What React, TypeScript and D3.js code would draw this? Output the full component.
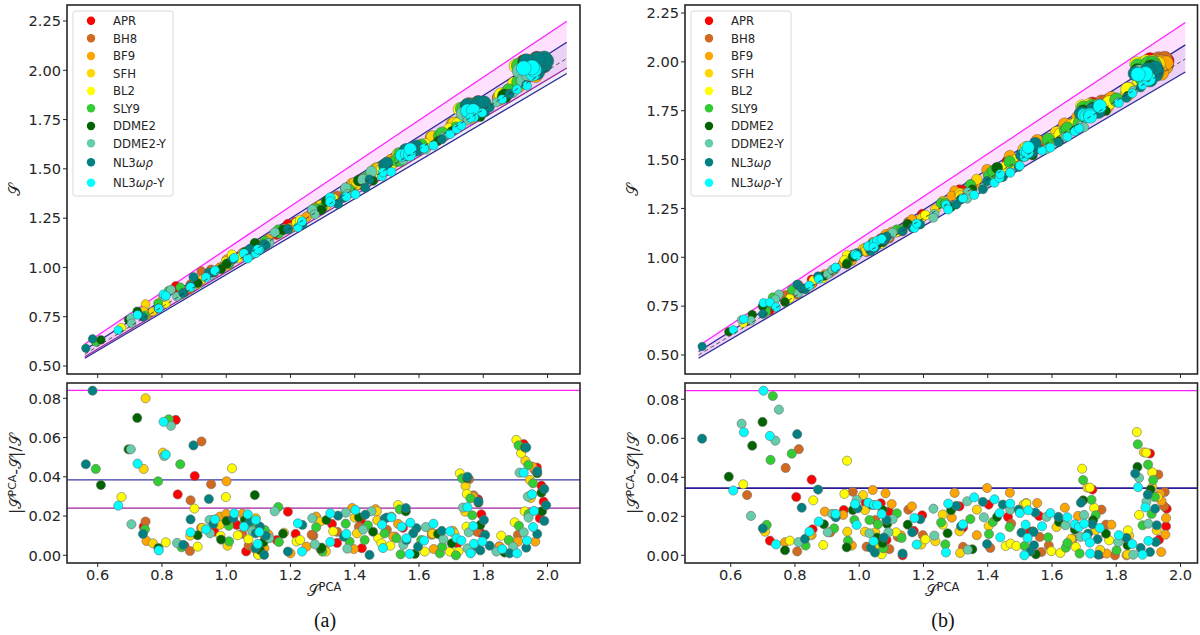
import React from "react";
import * as d3 from "d3";

type P = [number, number];
// [S_PCA, signed relative deviation]: the sign says whether S lies above (+) or below (-) S_PCA.
const seriesNames = ["APR", "BH8", "BF9", "SFH", "BL2", "SLY9", "DDME2", "DDME2-Y", "NL3wr", "NL3wr-Y"];
const seriesColors = ["#ff0000", "#d2691e", "#ffa500", "#ffd700", "#ffff00", "#32cd32", "#006400", "#66cdaa", "#008080", "#00ffff"];
const xTicks = [0.6, 0.8, 1.0, 1.2, 1.4, 1.6, 1.8, 2.0];
const yTopTicks = [0.5, 0.75, 1.0, 1.25, 1.5, 1.75, 2.0, 2.25];
const yBottomTicks = [0, 0.02, 0.04, 0.06, 0.08];
const boundsA = [0.084, 0.0384, 0.024];
const boundsB = [0.0845, 0.0345];

const A_APR: P[] = [[.843,.069],[.902,.0404],[.849,.031],[.743,.0146],[.87,.0049],[.963,.0121],[1.033,.0155],[1.062,-.002],[1.192,.0222],[1.157,.0078],[1.216,.0109],[1.329,.016],[1.345,-.0063],[1.419,.018],[1.422,-.0036],[1.784,.0285],[1.794,.0209],[1.792,.0115],[1.926,.0567],[1.967,.0447],[1.981,.0355],[1.988,.0273],[1.976,.0189],[1.55,.014],[1.72,.006]];
const A_BH8: P[] = [[.923,.058],[.953,.0362],[.889,.028],[.749,.0172],[.887,.0022],[.922,.0139],[1.05,.011],[1.098,.0145],[1.119,.0098],[1.271,.01],[1.266,.0105],[1.413,.0145],[1.5,.013],[1.525,.0095],[1.756,.0387],[1.77,.0305],[1.78,.012],[1.908,.0104],[1.96,.0435],[1.85,.0045],[1.64,.0105],[1.07,.005],[1.345,.012]];
const A_BF9: P[] = [[1.001,.0377],[.752,.0073],[.96,.018],[.98,.0197],[1.0,.0211],[1.051,.0212],[1.088,.0035],[1.119,.0036],[1.132,.0105],[1.25,.0044],[1.28,.0197],[1.308,.0027],[1.392,.0241],[1.397,.0032],[1.465,.0235],[1.514,.0197],[1.535,.016],[1.52,.0095],[1.646,.0032],[1.705,.0125],[1.768,.0299],[1.851,.0044],[1.908,.007],[1.962,.007],[1.953,.0452],[1.2,.001],[1.64,.0115]];
const A_SFH: P[] = [[.749,.08],[.803,.0523],[.743,.044],[.772,.0061],[.888,.01],[.925,.014],[.98,.0155],[1.004,.0049],[1.058,.0189],[1.092,.0189],[1.099,.0005],[1.18,.0115],[1.293,.0172],[1.4,.0192],[1.407,.0112],[1.469,.0224],[1.47,.0179],[1.642,.011],[1.71,.0112],[1.745,.0353],[1.744,.0222],[1.761,.0012],[1.945,.0384],[1.931,.0482],[1.948,.0292],[1.88,.0075],[1.31,.0019]];
const A_BL2: P[] = [[1.018,.0443],[.999,.0297],[.674,.0297],[.901,.0238],[.812,.0066],[.911,.0044],[.982,.0099],[1.036,.0102],[1.069,.0082],[1.1,.0002],[1.219,.007],[1.23,.0078],[1.333,.0122],[1.473,.0087],[1.483,.0061],[1.511,.0049],[1.535,.0256],[1.618,.0019],[1.696,.0019],[1.723,.0019],[1.727,.0418],[1.749,.0313],[1.748,.0146],[1.856,.01],[1.898,.0168],[1.929,.0224],[1.903,.0588],[1.95,.0309],[1.918,.052]];
const A_SLY9: P[] = [[.821,.0693],[.857,.0464],[.594,.044],[.788,.0377],[.747,.0132],[.861,.0041],[1.009,.0071],[1.008,.015],[1.079,.0138],[1.12,.0129],[1.162,.0246],[1.164,.0068],[1.28,.0143],[1.299,.0019],[1.372,.0161],[1.384,.007],[1.431,.0078],[1.441,.0153],[1.493,.0112],[1.54,.0234],[1.53,.0087],[1.543,.0005],[1.607,.0078],[1.665,.001],[1.672,.0044],[1.715,.0],[1.734,.0392],[1.76,.029],[1.766,.0204],[1.88,.0078],[1.911,.015],[1.941,.021],[1.955,.0367],[1.94,.046],[1.91,.056]];
const A_DDME2: P[] = [[.723,.07],[.696,.054],[.61,.0358],[.789,.0037],[.911,.0102],[.984,.008],[1.001,.0175],[1.058,.018],[1.089,.0307],[1.116,-.0066],[1.105,-.0027],[1.177,.011],[1.294,-.0032],[1.297,-.0039],[1.312,.018],[1.413,.0194],[1.457,-.012],[1.559,.0224],[1.587,-.0007],[1.659,-.0109],[1.702,-.0061],[1.75,.0392],[1.785,.0268],[1.791,-.0155],[1.866,.0014],[1.968,.0418],[1.981,.0319],[1.983,.0224],[1.93,.0549]];
const A_DDMEY: P[] = [[.828,.066],[.703,.054],[.807,.0506],[.705,.0158],[.847,.0063],[.948,.018],[.95,.0112],[1.081,-.0124],[1.134,-.0087],[1.151,.0224],[1.268,.0189],[1.276,-.0056],[1.372,.0217],[1.377,-.0034],[1.426,.0131],[1.452,.0224],[1.551,-.0053],[1.621,-.0144],[1.676,-.0082],[1.737,.0243],[1.755,.0117],[1.751,-.0035],[1.841,-.0019],[1.893,-.0044],[1.913,.0421],[1.926,.0117],[1.939,.0299],[1.941,.0192]];
const A_NL3: P[] = [[.584,.0839],[.563,.0464],[.898,.056],[.946,.0287],[.741,.0109],[.866,.0053],[.889,.0183],[.96,.016],[1.022,.0189],[1.074,.0172],[1.092,-.0112],[1.105,-.0146],[1.123,-.01],[1.091,-.0036],[1.118,-.0002],[1.192,.0019],[1.237,-.0155],[1.348,-.0202],[1.366,-.0095],[1.433,-.0207],[1.446,-.0002],[1.493,.0186],[1.5,.0192],[1.559,.0241],[1.561,.0078],[1.592,.0138],[1.582,.0112],[1.597,-.0044],[1.671,-.0124],[1.751,.04],[1.785,.0275],[1.802,.018],[1.806,-.0104],[1.78,.0044],[1.791,-.0025],[1.82,-.0049],[1.882,-.001],[1.934,-.0039],[1.968,.0109],[1.99,.0175],[1.996,.0255],[1.99,.0338],[1.968,.0428],[1.934,.0549]];
const A_CYAN: P[] = [[.805,.068],[.812,.0513],[.724,.0467],[.664,.0253],[.79,.0025],[.889,.0117],[.937,.0132],[.965,.0183],[1.025,.0214],[1.055,.0146],[1.067,-.0209],[1.092,-.018],[1.103,-.0119],[1.098,-.0058],[1.223,-.0163],[1.236,-.0019],[1.324,.0214],[1.324,.0068],[1.374,-.0109],[1.402,-.0231],[1.485,-.0156],[1.488,-.0037],[1.514,-.0194],[1.546,.0146],[1.561,.0087],[1.571,.0007],[1.573,.0166],[1.616,-.0075],[1.645,-.0161],[1.697,-.0122],[1.717,-.0087],[1.732,-.0075],[1.751,.0245],[1.769,.0149],[1.771,-.0059],[1.797,-.007],[1.761,-.001],[1.859,-.0032],[1.905,-.001],[1.936,-.0075],[1.955,.0144],[1.958,.0226],[1.952,.0311],[1.926,.0421]];

const B_APR: P[] = [[.852,.0388],[.804,.0299],[.722,.0075],[.855,.0133],[.952,.0232],[1.02,.027],[1.067,.0267],[1.092,.0224],[1.085,.0079],[1.135,.0],[1.17,.0125],[1.196,.0205],[1.312,.0251],[1.323,.0142],[1.403,.026],[1.463,.0197],[1.56,.0202],[1.726,.0337],[1.933,.008],[1.955,.0149],[1.957,.0239],[1.905,.0522],[1.53,.012],[1.75,.0005]];
const B_BH8: P[] = [[.651,.0309],[.771,.0448],[.812,.0544],[.807,.002],[.91,.0118],[.98,.0326],[1.023,.0044],[1.05,.0181],[1.094,.0032],[1.153,.0234],[1.198,.0103],[1.323,.0043],[1.408,.0038],[1.473,.0162],[1.562,.0094],[1.567,.0017],[1.665,.0085],[1.754,.0234],[1.768,.0157],[1.796,.0],[1.931,.0414],[1.949,.0251],[1.951,.0325],[1.12,.0095],[1.59,.005]];
const B_BF9: P[] = [[.769,.0067],[.852,.0104],[.893,.0224],[.95,.0207],[.977,.005],[1.042,.0335],[1.082,.0318],[1.101,.0263],[1.13,.0102],[1.164,.0251],[1.297,.032],[1.288,.0193],[1.366,.0103],[1.398,.0345],[1.469,.0321],[1.52,.0268],[1.554,.0268],[1.64,.0244],[1.681,.0202],[1.77,.0009],[1.785,.0157],[1.832,.0],[1.936,.0316],[1.941,.0279],[1.953,.0106],[1.955,.0191],[1.94,.0017]];
const B_SFH: P[] = [[.707,.0121],[.845,.0105],[1.012,.0309],[1.018,.0232],[1.018,.0121],[1.05,.0118],[.963,.0121],[1.062,.0043],[1.193,.0055],[1.237,.0072],[1.26,.0209],[1.312,.0123],[1.314,.0012],[1.366,.0234],[1.403,.015],[1.512,.026],[1.614,.0145],[1.66,.0085],[1.71,.0347],[1.735,.0128],[1.75,.0028],[1.835,.0005],[1.84,.01],[1.886,.0528],[1.912,.035],[1.926,.0128],[1.93,.03]];
const B_BL2: P[] = [[.639,.0364],[.857,.0282],[.962,.0485],[.784,.0075],[.888,.0053],[.954,.0315],[1.07,.0005],[1.115,.0118],[1.206,.0082],[1.26,.0157],[1.456,.0048],[1.471,.006],[1.489,.0048],[1.598,.0021],[1.626,.0012],[1.674,.0043],[1.694,.0444],[1.718,.0347],[1.731,.0244],[1.778,.0077],[1.836,.0128],[1.864,.0632],[1.871,.0207],[1.894,.0526],[1.912,.0426],[1.52,.0265]];
const B_SLY9: P[] = [[.731,.0817],[.724,.0489],[.79,.0521],[.712,.0156],[.833,.005],[.922,.0138],[.965,.0075],[.985,.0181],[1.032,.0181],[1.058,.0159],[1.075,.0036],[1.117,.0215],[1.132,.0089],[1.255,.0168],[1.268,.0056],[1.346,.0186],[1.404,.0109],[1.416,.0171],[1.468,.0145],[1.515,.0048],[1.588,.0092],[1.643,.0039],[1.648,.0063],[1.686,.0009],[1.697,.0386],[1.723,.0285],[1.736,.0205],[1.801,.0026],[1.882,.0154],[1.867,.0569],[1.899,.0465],[1.915,.0386],[1.92,.0299],[1.91,.0212]];
const B_DDME2: P[] = [[.594,.0403],[.667,.0562],[.699,.0684],[.769,.0026],[.89,.0159],[.961,.0041],[.98,.0232],[1.055,.0091],[1.073,.0232],[1.087,.0161],[1.073,.0062],[1.151,.0157],[1.275,-.0113],[1.286,-.0231],[1.352,-.0031],[1.429,.0197],[1.54,-.0123],[1.55,-.0005],[1.622,-.0171],[1.671,-.0132],[1.697,.0282],[1.728,.018],[1.768,-.0111],[1.835,-.0051],[1.866,.0453],[1.907,.0337]];
const B_DDMEY: P[] = [[.663,.0202],[.634,.0675],[.75,.0747],[.739,.0588],[.811,.0068],[.902,.0118],[.916,.0212],[.992,.0284],[1.032,.0113],[1.091,.0118],[1.104,.0185],[1.234,-.0101],[1.231,-.0239],[1.338,-.0029],[1.336,-.0277],[1.388,-.0195],[1.47,-.0234],[1.583,-.0197],[1.642,-.0154],[1.689,-.0094],[1.7,-.0207],[1.806,-.0068],[1.853,-.0003],[1.871,.0397],[1.894,.0274],[1.9,.0162]];
const B_NL3: P[] = [[.511,.0598],[.807,.0621],[.872,.0337],[.821,.0244],[.7,.0138],[.831,.0084],[.927,.0195],[.995,.0241],[1.039,.0258],[1.036,-.0039],[1.049,-.0014],[1.085,.0181],[1.077,.0091],[1.135,-.0009],[1.19,-.0185],[1.165,-.0118],[1.302,-.0253],[1.317,-.0149],[1.398,-.0058],[1.385,-.0274],[1.447,-.026],[1.496,-.0234],[1.505,.0116],[1.533,.002],[1.544,.0051],[1.543,.012],[1.548,.0219],[1.62,-.0197],[1.69,.027],[1.712,.0111],[1.726,.0159],[1.742,.0082],[1.744,.0003],[1.832,-.0089],[1.876,-.0038],[1.905,.0017],[1.923,.0068],[1.926,.0154],[1.921,.0239],[1.898,.0311],[1.859,.0419]];
const B_CYAN: P[] = [[.608,.0332],[.641,.0631],[.702,.0844],[.722,.0612],[.741,.0056],[.845,.0121],[.874,.0173],[.927,.0212],[.987,.0263],[.992,.0156],[1.028,.027],[1.046,.0258],[1.056,.0258],[1.07,.0212],[1.045,.0072],[1.172,-.0191],[1.179,-.0055],[1.27,-.0015],[1.277,-.0265],[1.323,-.0159],[1.358,-.0297],[1.421,-.0287],[1.437,-.0217],[1.439,-.0092],[1.47,-.0265],[1.5,-.0217],[1.514,.0],[1.518,.0157],[1.524,.0089],[1.526,.0231],[1.569,-.0149],[1.595,-.0217],[1.648,-.0195],[1.671,-.0159],[1.684,-.0145],[1.7,.0162],[1.707,.0094],[1.718,.0065],[1.719,.0009],[1.749,.014],[1.808,-.0103],[1.85,-.0058],[1.882,-.0003],[1.9,.0074],[1.891,.0246],[1.868,.0349]];

const seriesA = [A_APR, A_BH8, A_BF9, A_SFH, A_BL2, A_SLY9, A_DDME2, A_DDMEY, A_NL3, A_CYAN];
const seriesB = [B_APR, B_BH8, B_BF9, B_SFH, B_BL2, B_SLY9, B_DDME2, B_DDMEY, B_NL3, B_CYAN];

const AXIS = "#262626";
const FONT = "DejaVu Sans";
const legendRowY = [20.7, 38.3, 56, 73.3, 91, 108.3, 126, 143.3, 162.3, 182.7];
const script = "𝒮";

function legendLabel(name: string) {
  if (name.startsWith("NL3")) {
    return (
      <>
        NL3<tspan fontStyle="italic">ωρ</tspan>
        {name.endsWith("-Y") ? "-Y" : ""}
      </>
    );
  }
  return name;
}

type PanelProps = {
  left: number; right: number; xAt06: number;
  yTopDomainPx: [number, number];
  y008: number;
  bandDomain: [number, number];
  series: P[][];
  bounds: number[];
  caption: string;
  xLabelX: number; captionX: number;
  dual: boolean;
};

function Panel({ left, right, xAt06, yTopDomainPx, y008, bandDomain, series, bounds, caption, xLabelX, captionX, dual }: PanelProps) {
  const x = d3.scaleLinear().domain([0.6, 2.0]).range([xAt06, xAt06 + 449.8]);
  const yT = d3.scaleLinear().domain([0.5, 2.25]).range(yTopDomainPx);
  const yB = d3.scaleLinear().domain([0, 0.08]).range([555.3, y008]);
  const rTop = d3.scaleLinear().domain([0.5, 1.3, 1.55, 2.0]).range([4.2, 5, 6.2, 7.6]);
  const topOf = (p: P) => p[0] / (1 - p[1]);
  const rOf = (p: P) => (p[1] > 0 ? rTop(p[0]) : 4.6);
  const band = bandDomain;
  const edge = (f: (v: number) => number) =>
    d3.line<number>().x((d) => x(d)).y((d) => yT(f(d)))(band) as string;
  const area = (hi: (v: number) => number, lo: (v: number) => number) =>
    d3.area<number>().x((d) => x(d)).y0((d) => yT(lo(d))).y1((d) => yT(hi(d)))(band) as string;
  const up = (e: number) => (v: number) => v / (1 - e);
  const down = (e: number) => (v: number) => v / (1 + e);
  const outer = bounds[0], inner = bounds[1], narrow = dual ? bounds[2] : bounds[1];
  return (
    <g fontFamily={FONT} fill={AXIS}>
      {/* upper axes */}
      <path d={area(up(outer), down(narrow))} fill="#ff00ff" fillOpacity={0.12} />
      <path d={area(up(inner), down(inner))} fill="#1a1a8c" fillOpacity={0.08} />
      <path d={edge(up(outer))} fill="none" stroke="#ff22ff" strokeWidth={1.3} />
      <path d={edge(up(inner))} fill="none" stroke="#2b2b96" strokeWidth={1.3} />
      <path d={edge(down(inner))} fill="none" stroke="#2b2b96" strokeWidth={1.3} />
      {dual && <path d={edge(down(narrow))} fill="none" stroke="#a020a0" strokeWidth={1.2} />}
      {series.map((pts, i) => (
        <g key={i} fill={seriesColors[i]} stroke="#4a4a4a" strokeWidth={0.4}>
          {pts.map((p, j) => (
            <circle key={j} cx={x(p[0])} cy={yT(topOf(p))} r={rOf(p)} />
          ))}
        </g>
      ))}
      <path d={edge((v) => v)} fill="none" stroke="#333" strokeWidth={0.8} strokeDasharray="4 3" />
      <rect x={left} y={5} width={right - left} height={369} fill="none" stroke={AXIS} strokeWidth={1.6} />
      {yTopTicks.map((t) => (
        <g key={t}>
          <line x1={left - 4} x2={left} y1={yT(t)} y2={yT(t)} stroke={AXIS} strokeWidth={1} />
          <text x={left - 6} y={yT(t)} dy="0.36em" textAnchor="end" fontSize={14.6} stroke="none">{t.toFixed(2)}</text>
        </g>
      ))}
      {xTicks.map((t) => (
        <line key={t} x1={x(t)} x2={x(t)} y1={374} y2={378} stroke={AXIS} strokeWidth={1} />
      ))}
      <text transform={`translate(${left - 47},190) rotate(-90)`} textAnchor="middle" fontSize={16}>{script}</text>

      {/* legend */}
      <rect x={left + 6} y={11} width={100} height={185} rx={2.5} fill="#fff" fillOpacity={0.9} stroke="#d8d8d8" strokeWidth={1} />
      {seriesNames.map((n, i) => (
        <g key={n}>
          <circle cx={left + 24} cy={legendRowY[i]} r={4.2} fill={seriesColors[i]} />
          <text x={left + 46} y={legendRowY[i]} dy="0.36em" fontSize={11.7}>{legendLabel(n)}</text>
        </g>
      ))}

      {/* lower axes */}
      <line x1={left} x2={right} y1={yB(bounds[0])} y2={yB(bounds[0])} stroke="#ff22ff" strokeWidth={1.3} />
      <line x1={left} x2={right} y1={yB(bounds[1])} y2={yB(bounds[1])} stroke={dual ? "#3a3aa8" : "#2a1a9a"} strokeWidth={dual ? 1.3 : 1.7} />
      {dual && <line x1={left} x2={right} y1={yB(bounds[2])} y2={yB(bounds[2])} stroke="#a020a0" strokeWidth={1.3} />}
      {series.map((pts, i) => (
        <g key={i} fill={seriesColors[i]} stroke="#6e6e6e" strokeWidth={0.6}>
          {pts.map((p, j) => (
            <circle key={j} cx={x(p[0])} cy={yB(Math.abs(p[1]))} r={4.6} />
          ))}
        </g>
      ))}
      <rect x={left} y={383} width={right - left} height={180} fill="none" stroke={AXIS} strokeWidth={1.6} />
      {yBottomTicks.map((t) => (
        <g key={t}>
          <line x1={left - 4} x2={left} y1={yB(t)} y2={yB(t)} stroke={AXIS} strokeWidth={1} />
          <text x={left - 6} y={yB(t)} dy="0.36em" textAnchor="end" fontSize={14.6} stroke="none">{t.toFixed(2)}</text>
        </g>
      ))}
      {xTicks.map((t) => (
        <g key={t}>
          <line x1={x(t)} x2={x(t)} y1={563} y2={567} stroke={AXIS} strokeWidth={1} />
          <text x={x(t)} y={575} dy="0.36em" textAnchor="middle" fontSize={14.6} stroke="none">{t.toFixed(1)}</text>
        </g>
      ))}
      <text x={xLabelX} y={596} textAnchor="middle" fontSize={16}>
        {script}<tspan fontSize={11.5} dy={-5}>PCA</tspan>
      </text>
      <text transform={`translate(${left - 46},474) rotate(-90)`} textAnchor="middle" fontSize={16}>
        |{script}<tspan fontSize={11} dy={-5}>PCA</tspan><tspan dy={5}>-{script}|/{script}</tspan>
      </text>
      <text x={captionX} y={627} textAnchor="middle" fontFamily="Liberation Serif" fontSize={20} fill="#111">{caption}</text>
    </g>
  );
}

export default function App() {
  return (
    <svg width={1200} height={635} style={{ position: "absolute", left: 0, top: 0, background: "#fff" }}>
      <Panel left={67} right={580} xAt06={97.7} yTopDomainPx={[366, 21]} y008={398.3} bandDomain={[0.56, 2.06]}
        series={seriesA} bounds={boundsA} caption="(a)" xLabelX={324} captionX={325} dual />
      <Panel left={685} right={1197.5} xAt06={730.7} yTopDomainPx={[355, 13]} y008={399.3} bandDomain={[0.5, 2.015]}
        series={seriesB} bounds={boundsB} caption="(b)" xLabelX={942} captionX={943} dual={false} />
    </svg>
  );
}
